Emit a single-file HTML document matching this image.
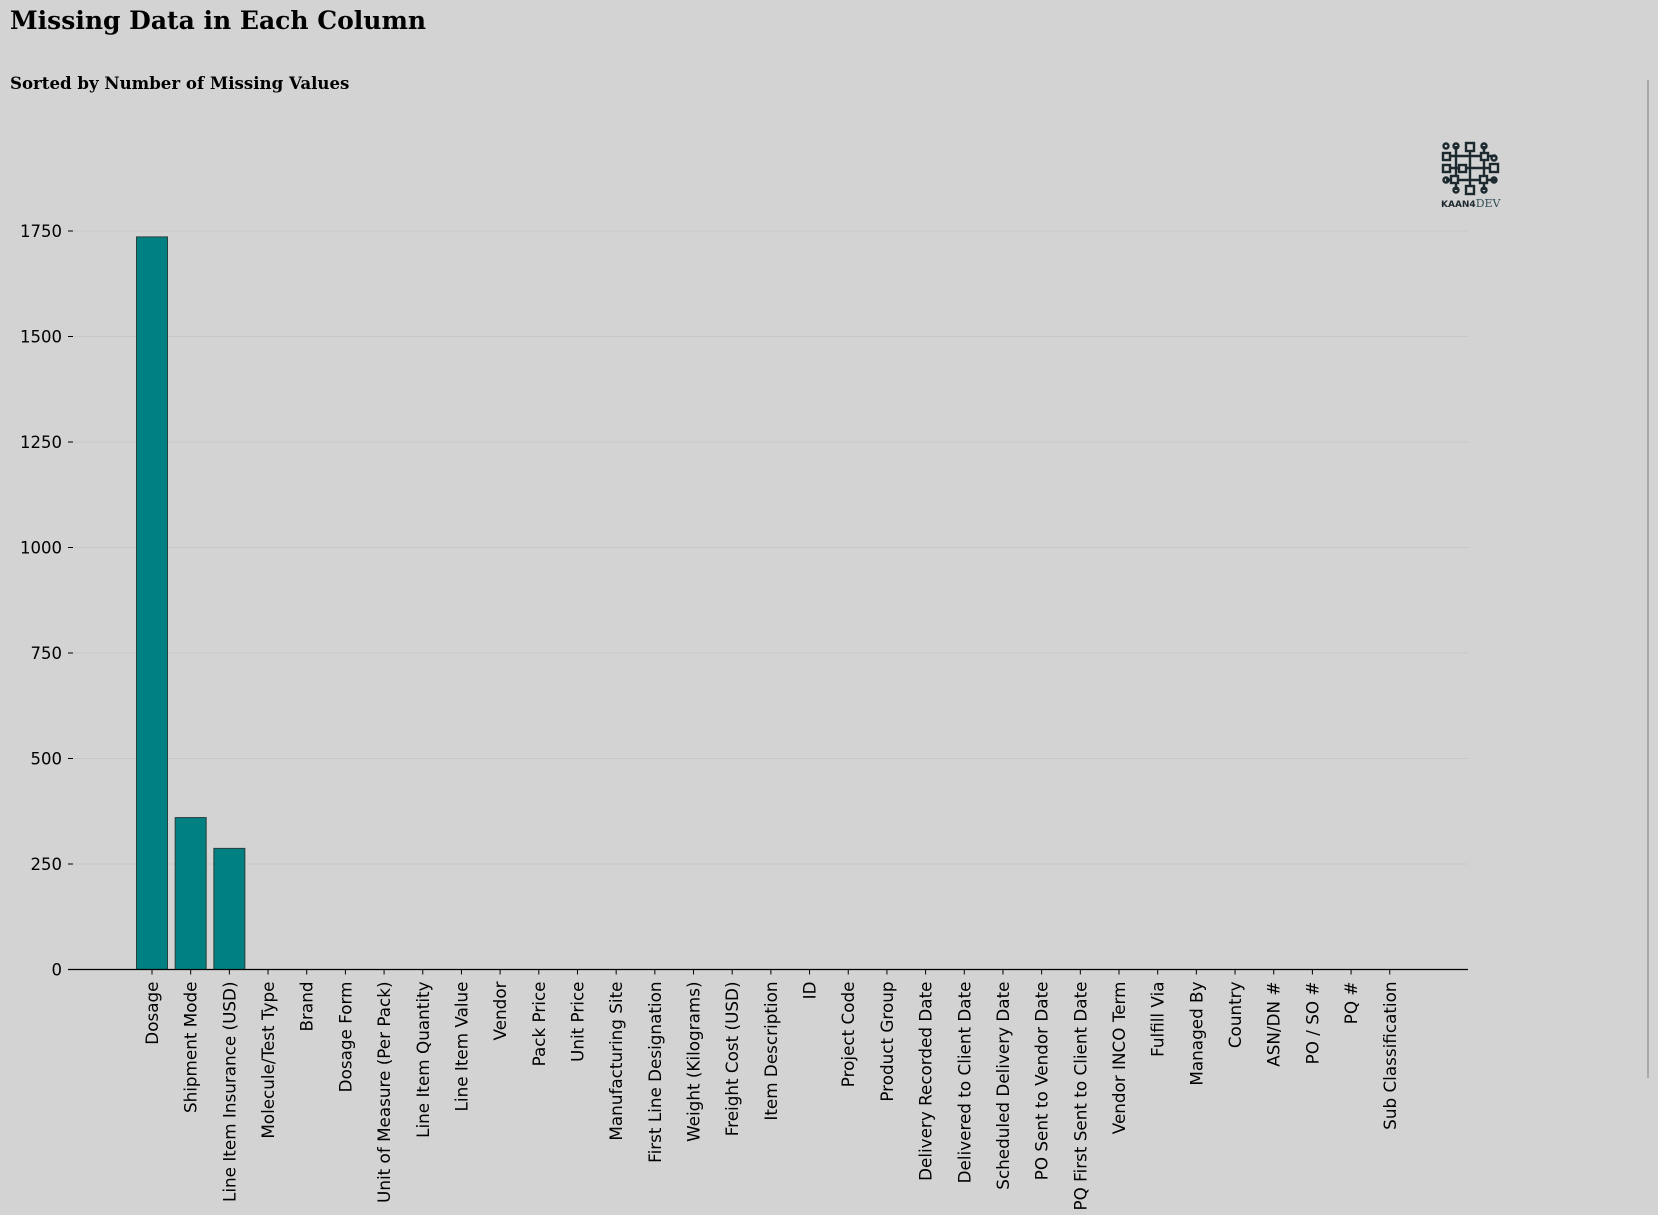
<!DOCTYPE html>
<html><head><meta charset="utf-8"><style>
body{margin:0;background:#d3d3d3;width:1658px;height:1215px;overflow:hidden}
svg{display:block}
</style></head><body>
<svg width="1658" height="1215" xmlns="http://www.w3.org/2000/svg">
<rect width="1658" height="1215" fill="#d3d3d3"/>
<text x="10" y="29" font-family="DejaVu Serif, Liberation Serif, serif" font-weight="bold" font-size="25">Missing Data in Each Column</text>
<text x="10" y="89" font-family="DejaVu Serif, Liberation Serif, serif" font-weight="bold" font-size="16.6">Sorted by Number of Missing Values</text>
<line x1="1648" y1="80" x2="1648" y2="1078" stroke="#a8a8a8" stroke-width="2"/>
<g id="logo" stroke="#1c2a30" stroke-width="2.4" fill="none">
<line x1="1446" y1="156" x2="1496" y2="156"/><line x1="1446" y1="168" x2="1496" y2="168"/><line x1="1446" y1="180" x2="1496" y2="180"/>
<line x1="1456" y1="146" x2="1456" y2="190"/><line x1="1470" y1="146" x2="1470" y2="190"/><line x1="1484" y1="146" x2="1484" y2="190"/>
<rect x="1443" y="153" width="7" height="7" fill="#d3d3d3"/><rect x="1443" y="165" width="7" height="7" fill="#d3d3d3"/><rect x="1466" y="143" width="8" height="8" fill="#d3d3d3"/><rect x="1481" y="153" width="7" height="7" fill="#d3d3d3"/><rect x="1490" y="164" width="8" height="8" fill="#d3d3d3"/><rect x="1459" y="165" width="7" height="7" fill="#d3d3d3"/><rect x="1451" y="176" width="7" height="7" fill="#d3d3d3"/><rect x="1480" y="176" width="7" height="7" fill="#d3d3d3"/><rect x="1466" y="186" width="8" height="8" fill="#d3d3d3"/>
<circle cx="1446" cy="146" r="2.5"/><circle cx="1456" cy="146" r="2.5"/><circle cx="1484" cy="146" r="2.5"/><circle cx="1494" cy="158" r="2.5"/><circle cx="1446" cy="180" r="2.5"/><circle cx="1494" cy="180" r="2.5"/><circle cx="1456" cy="190" r="2.5"/><circle cx="1484" cy="190" r="2.5"/>
</g>
<text x="1441" y="207" font-family="DejaVu Sans, Liberation Sans, sans-serif" font-size="9" font-weight="bold" fill="#1c2a30">KAAN4<tspan font-family="DejaVu Serif, serif" font-weight="normal" font-size="11" fill="#2f4f56">DEV</tspan></text>
<g id="grid"></g><g id="yaxis"></g><g id="bars"></g><g id="xaxis"></g>
</svg>
<script>
const categories=["Dosage","Shipment Mode","Line Item Insurance (USD)","Molecule/Test Type","Brand","Dosage Form","Unit of Measure (Per Pack)","Line Item Quantity","Line Item Value","Vendor","Pack Price","Unit Price","Manufacturing Site","First Line Designation","Weight (Kilograms)","Freight Cost (USD)","Item Description","ID","Project Code","Product Group","Delivery Recorded Date","Delivered to Client Date","Scheduled Delivery Date","PO Sent to Vendor Date","PQ First Sent to Client Date","Vendor INCO Term","Fulfill Via","Managed By","Country","ASN/DN #","PO / SO #","PQ #","Sub Classification"];
const missingValues=[1736,360,287,0,0,0,0,0,0,0,0,0,0,0,0,0,0,0,0,0,0,0,0,0,0,0,0,0,0,0,0,0,0];
const yTicks=[0,250,500,750,1000,1250,1500,1750];
const NS="http://www.w3.org/2000/svg";
const y0=969.5,pxPer=105.5/250;
const y=v=>y0-v*pxPer;
const x=i=>152+i*38.68;
const bw=31;
function mk(t,a,p){const e=document.createElementNS(NS,t);for(const k in a)e.setAttribute(k,a[k]);p.appendChild(e);return e;}
const G=document.getElementById('grid'),Y=document.getElementById('yaxis'),B=document.getElementById('bars'),X=document.getElementById('xaxis');
yTicks.forEach(t=>{
  if(t>0){const g=mk('line',{x1:74,x2:1468,y1:y(t),y2:y(t),stroke:'#c8c8c8','stroke-width':1},G);
  
  }
  const tk=mk('line',{x1:68,x2:73,y1:y(t),y2:y(t),stroke:'#000','stroke-width':1},Y);
  
  
  const tx=mk('text',{x:62,y:y(t)+6,'text-anchor':'end','font-family':'DejaVu Sans, Liberation Sans, sans-serif','font-size':16.5},Y);
  tx.textContent=t;
  
  
});
categories.forEach((c,i)=>{
  const v=missingValues[i];
  if(v>0){const r=mk('rect',{x:x(i)-bw/2,y:y(v),width:bw,height:y0-y(v),fill:'#008080',stroke:'#2a3f3f','stroke-width':1},B);
  
  }
  const tk=mk('line',{x1:x(i),x2:x(i),y1:y0,y2:y0+5,stroke:'#000','stroke-width':1},X);
  
  
  const tx=mk('text',{x:0,y:0,'text-anchor':'end','font-family':'DejaVu Sans, Liberation Sans, sans-serif','font-size':16.8,transform:`translate(${x(i)+6},${y0+12}) rotate(-90)`},X);
  tx.textContent=c;
  
  
});
const ax=mk('line',{x1:68,x2:1468,y1:y0,y2:y0,stroke:'#000','stroke-width':1.3},X);


</script>
</body></html>
